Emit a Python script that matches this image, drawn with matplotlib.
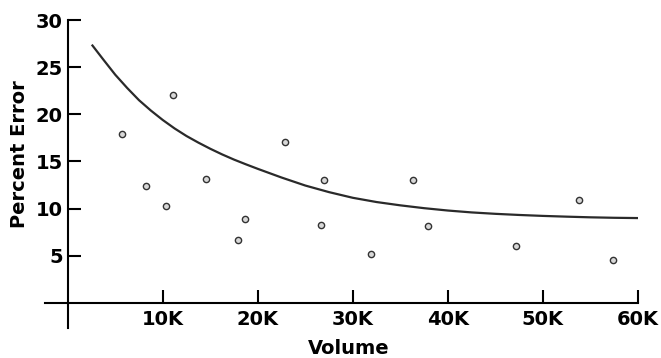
import numpy as np
import matplotlib
matplotlib.use("Agg")
import matplotlib.pyplot as plt

plt.rcParams['font.family'] = ['DejaVu Sans']

# --- Data (volume in thousands, percent error) ---
vol_k = [5.7, 11.1, 8.2, 10.3, 14.5, 18.7, 17.9, 22.9, 27.0, 26.7,
         31.9, 36.3, 37.9, 47.2, 53.8, 57.4]
pct_err = [17.9, 22.0, 12.4, 10.3, 13.1, 8.9, 6.7, 17.1, 13.0, 8.3,
           5.2, 13.0, 8.2, 6.0, 10.9, 4.6]

# trend curve
curve_x = [2.6, 3.75, 5.0, 6.25, 7.5, 8.75, 10.0, 11.25, 12.5, 13.75, 15.0,
           16.25, 17.5, 18.75, 20.0, 22.5, 25.0, 27.5, 30.0, 32.5, 35.0,
           37.5, 40.0, 42.5, 45.0, 47.5, 50.0, 52.5, 55.0, 57.5, 60.0]
curve_y = [27.3, 25.8, 24.2, 22.8, 21.5, 20.4, 19.4, 18.5, 17.7, 17.0, 16.35,
           15.75, 15.2, 14.7, 14.22, 13.3, 12.45, 11.75, 11.15, 10.7, 10.35,
           10.05, 9.8, 9.6, 9.45, 9.33, 9.23, 9.15, 9.08, 9.03, 9.0]

x_ticks = [10, 20, 30, 40, 50, 60]
x_labels = ["10K", "20K", "30K", "40K", "50K", "60K"]
y_ticks = [5, 10, 15, 20, 25, 30]

# --- Plot ---
fig = plt.figure(figsize=(6.61, 3.58), dpi=100)
ax = fig.add_axes([0.068, 0.084, 0.897, 0.860])

ax.plot(curve_x, curve_y, color="#2a2a2a", linewidth=1.6)
ax.plot(vol_k, pct_err, linestyle="none", marker="o", markersize=4.5,
        markerfacecolor="#d8d8d8", markeredgecolor="#333333", markeredgewidth=1.0)

ax.set_xlim(-2.4, 60)
ax.set_ylim(-2.65, 30)

# spines crossing at the origin
ax.spines['left'].set_position(('data', 0))
ax.spines['bottom'].set_position(('data', 0))
ax.spines['top'].set_visible(False)
ax.spines['right'].set_visible(False)
for s in ('left', 'bottom'):
    ax.spines[s].set_linewidth(1.5)
    ax.spines[s].set_color('black')

ax.set_xticks(x_ticks)
ax.set_xticklabels(x_labels)
ax.set_yticks(y_ticks)
ax.tick_params(direction='in', length=9.5, width=1.5, labelsize=14, pad=3.5)
ax.tick_params(axis='x', pad=5)
for lbl in ax.get_xticklabels() + ax.get_yticklabels():
    lbl.set_fontweight('bold')

ax.set_xlabel("Volume", fontsize=14, fontweight='bold', va='center')
ax.set_ylabel("Percent Error", fontsize=14, fontweight='bold', va='center')
ax.xaxis.set_label_coords(349 / 661, 1 - 349 / 358, transform=fig.transFigure)
ax.yaxis.set_label_coords(19.5 / 661, 1 - 154 / 358, transform=fig.transFigure)

fig.savefig("out.png", dpi=100)
